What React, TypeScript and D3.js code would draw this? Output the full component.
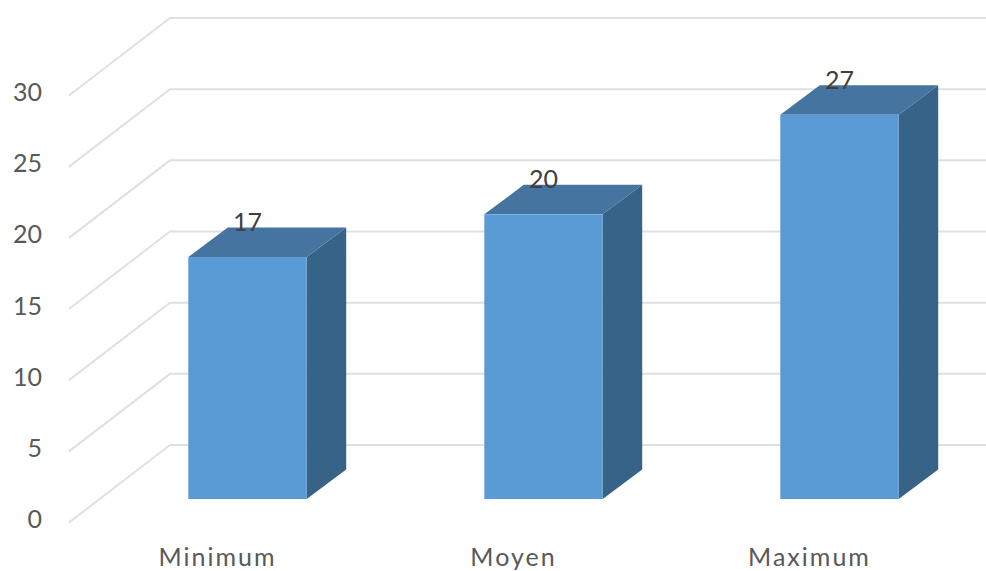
import React from "react";
import * as d3 from "d3";

const categories = ["Minimum", "Moyen", "Maximum"];
const values = [17, 20, 27];
const gridTicks = [0, 5, 10, 15, 20, 25, 30];

const WIDTH = 986;
const HEIGHT = 571;
const FONT = "Lato, 'Open Sans', sans-serif";

// Back wall of the 3D box: value scale and wall extent.
const backY = d3.scaleLinear().domain([0, 30]).range([445, 18]);
const wallLeft = 170;
const floorDx = -101;
const floorDy = 77.5;

// Bars stand midway through the depth of the box.
const barDepthDx = 39.5;
const barDepthDy = 29.5;
const barFrontShift = 54;

const frontY = (v: number) => backY(v) + barFrontShift;
const x = d3.scaleBand<string>().domain(categories).range([99.5, 987.5]).paddingInner(0.6).paddingOuter(0.3);

const polygon = (pts: [number, number][]) => d3.line()(pts) + "Z";

export default function App() {
  return (
    <svg
      width={WIDTH}
      height={HEIGHT}
      viewBox={`0 0 ${WIDTH} ${HEIGHT}`}
      style={{ position: "absolute", left: 0, top: 0, background: "#fff" }}
    >
      {gridTicks.map((t) => (
        <path
          key={t}
          d={d3.line()([
            [wallLeft + floorDx, backY(t) + floorDy],
            [wallLeft, backY(t)],
            [WIDTH, backY(t)],
          ]) as string}
          fill="none"
          stroke="#e0e0e0"
          strokeWidth={2}
        />
      ))}
      {gridTicks.map((t) => (
        <text
          key={t}
          x={42}
          y={backY(t) + floorDy + 5.5}
          textAnchor="end"
          fontFamily={FONT}
          fontSize={25}
          fill="#595959"
        >
          {t}
        </text>
      ))}
      {categories.map((c, i) => {
        const v = values[i];
        const x0 = x(c) as number;
        const x1 = x0 + x.bandwidth();
        const top = frontY(v);
        const base = frontY(0);
        return (
          <g key={c}>
            <path
              d={polygon([
                [x1, top],
                [x1 + barDepthDx, top - barDepthDy],
                [x1 + barDepthDx, base - barDepthDy],
                [x1, base],
              ])}
              fill="#386388"
            />
            <path
              d={polygon([
                [x0, top],
                [x0 + barDepthDx, top - barDepthDy],
                [x1 + barDepthDx, top - barDepthDy],
                [x1, top],
              ])}
              fill="#44749f"
            />
            <rect x={x0} y={top} width={x.bandwidth()} height={base - top} fill="#5b9bd5" />
            <text
              x={(x0 + x1) / 2}
              y={top - 26}
              textAnchor="middle"
              fontFamily={FONT}
              fontSize={25}
              fill="#404040"
            >
              {v}
            </text>
            <text
              x={(x0 + x1) / 2 - 30}
              y={566}
              textAnchor="middle"
              fontFamily={FONT}
              fontSize={25}
              letterSpacing={2}
              fill="#595959"
            >
              {c}
            </text>
          </g>
        );
      })}
    </svg>
  );
}
